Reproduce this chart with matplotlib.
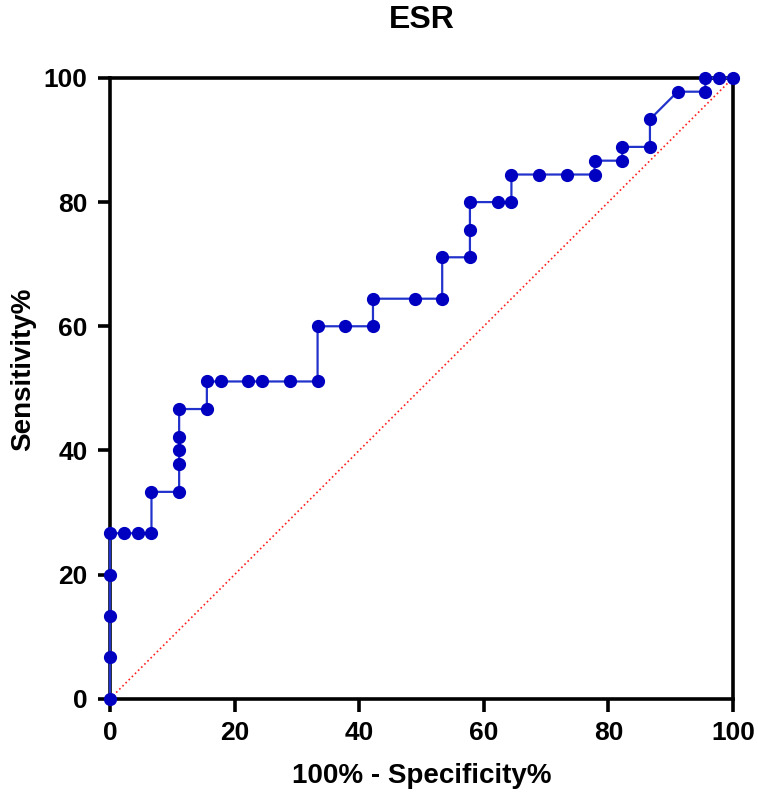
import matplotlib.pyplot as plt

# ROC points for ESR (100% - specificity, sensitivity), in plotting order
fpr = [0, 0, 0, 0, 0, 2.22, 4.44, 6.67, 6.67, 11.11, 11.11, 11.11, 11.11, 11.11,
       15.56, 15.56, 17.78, 22.22, 24.44, 28.89, 33.33, 33.33, 37.78, 42.22, 42.22,
       48.89, 53.33, 53.33, 57.78, 57.78, 57.78, 62.22, 64.44, 64.44, 68.89, 73.33,
       77.78, 77.78, 82.22, 82.22, 86.67, 86.67, 91.11, 95.56, 95.56, 97.78, 100]
sens = [0, 6.67, 13.33, 20.0, 26.67, 26.67, 26.67, 26.67, 33.33, 33.33, 37.78, 40.0,
        42.22, 46.67, 46.67, 51.11, 51.11, 51.11, 51.11, 51.11, 51.11, 60.0, 60.0,
        60.0, 64.44, 64.44, 64.44, 71.11, 71.11, 75.56, 80.0, 80.0, 80.0, 84.44,
        84.44, 84.44, 84.44, 86.67, 86.67, 88.89, 88.89, 93.33, 97.78, 97.78, 100,
        100, 100]
ticks = [0, 20, 40, 60, 80, 100]

plt.rcParams['font.family'] = ['Liberation Sans', 'DejaVu Sans']
plt.rcParams['font.weight'] = 'bold'

fig = plt.figure(figsize=(7.58, 7.95), dpi=100)
ax = fig.add_axes([0.145, 0.121, 0.822, 0.781])

# reference line
ax.plot([0, 100], [0, 100], color='#ff2020', linestyle=':', linewidth=1.2, zorder=2)

ax.plot(fpr, sens, color='#2233cc', linewidth=1.6, marker='o', markersize=8.5,
        markerfacecolor='#0000c0', markeredgecolor='#0000c0', zorder=3, clip_on=False)

ax.set_xlim(0, 100)
ax.set_ylim(0, 100)
ax.set_xticks(ticks)
ax.set_yticks(ticks)
for s in ax.spines.values():
    s.set_linewidth(2.6)
ax.tick_params(direction='out', length=9, width=2.6, labelsize=19, pad=7)
for lab in ax.get_xticklabels() + ax.get_yticklabels():
    lab.set_fontweight('bold')

ax.set_title('ESR', fontsize=23, fontweight='bold', pad=36)
ax.set_xlabel('100% - Specificity%', fontsize=20, fontweight='bold', labelpad=13)
ax.set_ylabel('Sensitivity%', fontsize=20, fontweight='bold')
ax.yaxis.set_label_coords(-0.118, 0.53)

fig.savefig('out.png', dpi=100)
